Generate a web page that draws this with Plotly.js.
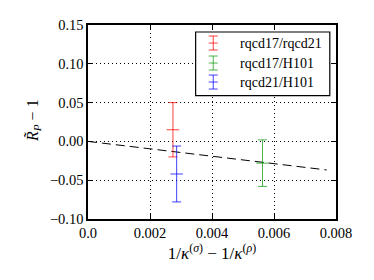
<!DOCTYPE html>
<html><head><meta charset="utf-8">
<script src="https://cdn.plot.ly/plotly-3.0.1.min.js"></script>
<style>body{margin:0;padding:0;background:#fff}#plot{width:374px;height:280px}</style>
</head><body><div id="plot"></div>
<script>
// Data
const seriesNames = ["rqcd17/rqcd21", "rqcd17/H101", "rqcd21/H101"];
const seriesColors = ["rgba(255,0,0,0.75)", "rgba(0,150,0,0.7)", "rgba(0,0,255,0.75)"];
const xVals = [0.00274, 0.00563, 0.00286];
const yVals = [0.015, -0.028, -0.042];
const yErrs = [0.035, 0.030, 0.036];
const fitX = [0.0, 0.0077];
const fitY = [0.0, -0.0368];
const xTicks = [0.0, 0.002, 0.004, 0.006, 0.008];
const xTickText = ["0.0", "0.002", "0.004", "0.006", "0.008"];
const yTicks = [-0.10, -0.05, 0.00, 0.05, 0.10, 0.15];
const yTickText = ["\u22120.10", "\u22120.05", "0.00", "0.05", "0.10", "0.15"];
const yTitle = "<i>R̃</i><sub><i>P</i></sub> − 1";
const xTitle = "1/<i>κ</i><sup>(<i>σ</i>)</sup> − 1/<i>κ</i><sup>(<i>ρ</i>)</sup>";

const FONT = "'Liberation Serif', 'DejaVu Serif', serif";
const traces = [];
traces.push({x: fitX, y: fitY, mode: "lines", line: {color: "black", width: 1, dash: "9px,5px"}, showlegend: false, hoverinfo: "skip"});
for (let i = 0; i < seriesNames.length; i++) {
  traces.push({
    x: [xVals[i]], y: [yVals[i]], mode: "markers", name: seriesNames[i],
    marker: {symbol: "line-ew", size: 9, color: seriesColors[i], line: {color: seriesColors[i], width: 1}},
    error_y: {type: "data", array: [yErrs[i]], visible: true, color: seriesColors[i], thickness: 1, width: 4.5},
    showlegend: false
  });
}

// manual legend (paper coordinates)
const W = 248, H = 194;
const shapes = [];
const annotations = [];
shapes.push({type: "rect", xref: "paper", yref: "paper", x0: 0.434, x1: 0.975, y0: 0.636, y1: 0.964,
  line: {color: "black", width: 1.2}, fillcolor: "white", layer: "above"});
const legY = [0.907, 0.804, 0.706];
const gx = 0.505;
for (let i = 0; i < seriesNames.length; i++) {
  const c = seriesColors[i];
  const y = legY[i];
  const hh = 7 / H, cw = 4.5 / W;
  shapes.push({type: "line", xref: "paper", yref: "paper", x0: gx, x1: gx, y0: y - hh, y1: y + hh, line: {color: c, width: 1}, layer: "above"});
  [y - hh, y, y + hh].forEach(yy => shapes.push({type: "line", xref: "paper", yref: "paper", x0: gx - cw, x1: gx + cw, y0: yy, y1: yy, line: {color: c, width: 1}, layer: "above"}));
  annotations.push({xref: "paper", yref: "paper", x: 0.606, y: y, xanchor: "left", yanchor: "middle",
    text: seriesNames[i], showarrow: false, font: {family: FONT, size: 14, color: "black"}});
}
// y-axis title as rotated annotation
annotations.push({xref: "paper", yref: "paper", x: -0.222, y: 0.51, xanchor: "center", yanchor: "middle",
  textangle: -90, text: yTitle, showarrow: false, font: {family: FONT, size: 16, color: "black"}});

const axisCommon = {
  showline: true, linecolor: "black", linewidth: 1.6, mirror: "ticks",
  ticks: "inside", ticklen: 5, tickwidth: 1, tickcolor: "black",
  showgrid: true, gridcolor: "black", gridwidth: 1, griddash: "1px,3px",
  zeroline: false, tickfont: {family: FONT, size: 14.5, color: "black"}
};
const layout = {
  width: 374, height: 280,
  margin: {l: 88, r: 38, t: 25, b: 61},
  paper_bgcolor: "white", plot_bgcolor: "white",
  showlegend: false,
  xaxis: Object.assign({}, axisCommon, {range: [0, 0.008], tickvals: xTicks, ticktext: xTickText,
    title: {text: xTitle, font: {family: FONT, size: 17, color: "black"}, standoff: 1}}),
  yaxis: Object.assign({}, axisCommon, {range: [-0.10, 0.15], tickvals: yTicks, ticktext: yTickText}),
  shapes: shapes, annotations: annotations
};
Plotly.newPlot("plot", traces, layout, {staticPlot: true, displayModeBar: false});
</script></body></html>
